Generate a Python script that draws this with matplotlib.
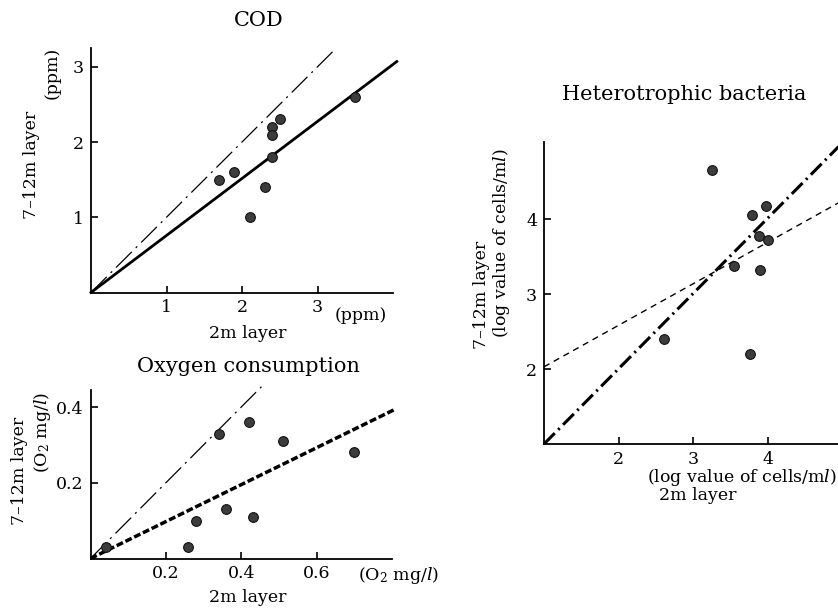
import matplotlib
matplotlib.use('Agg')
import matplotlib.pyplot as plt

# values
cod_x = [1.7, 1.9, 2.1, 2.3, 2.4, 2.4, 2.4, 2.5, 3.5]
cod_y = [1.5, 1.6, 1.0, 1.4, 2.2, 2.1, 1.8, 2.3, 2.6]
cod_one_x = [0, 3.25]
cod_one_y = [0, 3.25]
cod_fit_x = [0, 4.05]
cod_fit_y = [0, 3.07]

oxy_x = [0.04, 0.26, 0.28, 0.34, 0.36, 0.42, 0.43, 0.51, 0.70]
oxy_y = [0.03, 0.03, 0.10, 0.33, 0.13, 0.36, 0.11, 0.31, 0.28]
oxy_one_x = [0, 0.455]
oxy_one_y = [0, 0.455]
oxy_fit_x = [0, 0.81]
oxy_fit_y = [0, 0.395]

het_x = [3.25, 3.79, 3.98, 3.88, 4.00, 3.55, 3.90, 2.61, 3.76]
het_y = [4.66, 4.05, 4.17, 3.77, 3.72, 3.37, 3.32, 2.40, 2.20]
het_one_x = [1, 4.95]
het_one_y = [1, 4.97]
het_fit_x = [1, 4.95]
het_fit_y = [2.03, 4.22]

cod_ticks = [1, 2, 3]
oxy_ticks_x = [0.2, 0.4, 0.6]
oxy_ticks_y = [0.2, 0.4]
het_ticks = [2, 3, 4]

plt.rcParams['font.family'] = ['DejaVu Serif']
plt.rcParams['mathtext.fontset'] = 'dejavuserif'
plt.rcParams['lines.scale_dashes'] = False

W, H = 838, 608
fig = plt.figure(figsize=(W / 100, H / 100), dpi=100)


def px_axes(left, right, bottom, top):
    return fig.add_axes([left / W, 1 - bottom / H, (right - left) / W, (bottom - top) / H])


def ftext(x, y, s, **kw):
    fig.text(x / W, 1 - y / H, s, **kw)


def style(ax):
    for side in ['top', 'right']:
        ax.spines[side].set_visible(False)
    for side in ['left', 'bottom']:
        ax.spines[side].set_linewidth(1.3)
    ax.tick_params(direction='in', length=5, width=1.2, labelsize=12.5, pad=5)


dots = dict(marker='o', linestyle='none', markersize=7, markerfacecolor='#3c3c3c',
            markeredgecolor='#111111', markeredgewidth=0.8, zorder=5)

# COD
ax1 = px_axes(91, 393, 292.5, 48)
ax1.plot(cod_one_x, cod_one_y, color='black', lw=0.9, dashes=[16, 4, 1.5, 4], clip_on=False)
ax1.plot(cod_fit_x, cod_fit_y, color='black', lw=2.0, clip_on=False)
ax1.plot(cod_x, cod_y, **dots)
ax1.set_xlim(0, 4.0)
ax1.set_ylim(0, 3.25)
ax1.set_xticks(cod_ticks)
ax1.set_yticks(cod_ticks)
style(ax1)
ftext(259, 20, 'COD', fontsize=15, ha='center', va='center')
ftext(31, 165, '7–12m layer', fontsize=12.5, rotation=90, ha='center', va='center')
ftext(52, 73, '(ppm)', fontsize=12.5, rotation=90, ha='center', va='center')
ftext(335, 315, '(ppm)', fontsize=12.5, ha='left', va='center')
ftext(248, 333, '2m layer', fontsize=12.5, ha='center', va='center')

# Oxygen consumption
ax2 = px_axes(90.5, 392, 558.5, 390)
ax2.plot(oxy_one_x, oxy_one_y, color='black', lw=0.9, dashes=[16, 4, 1.5, 4], clip_on=False)
ax2.plot(oxy_fit_x, oxy_fit_y, color='black', lw=2.5, dashes=[5, 2], clip_on=False)
ax2.plot(oxy_x, oxy_y, **dots)
ax2.set_xlim(0, 0.80)
ax2.set_ylim(0, 0.445)
ax2.set_xticks(oxy_ticks_x)
ax2.set_yticks(oxy_ticks_y)
ax2.set_xticklabels([f'{v:.1f}' for v in oxy_ticks_x])
ax2.set_yticklabels([f'{v:.1f}' for v in oxy_ticks_y])
style(ax2)
ftext(248, 366, 'Oxygen consumption', fontsize=15, ha='center', va='center')
ftext(20, 471, '7–12m layer', fontsize=12.5, rotation=90, ha='center', va='center')
ftext(42, 432, '(O$_\\mathregular{2}$ mg/$l$)', fontsize=12.5, rotation=90, ha='center', va='center')
ftext(358, 575, '(O$_\\mathregular{2}$ mg/$l$)', fontsize=12.5, ha='left', va='center')
ftext(248, 598, '2m layer', fontsize=12.5, ha='center', va='center')

# Heterotrophic bacteria
ax3 = px_axes(544, 838, 444, 142)
ax3.plot(het_one_x, het_one_y, color='black', lw=2.2, dashes=[11, 3.5, 1.5, 3.5], clip_on=False)
ax3.plot(het_fit_x, het_fit_y, color='black', lw=1.0, dashes=[4.5, 3.5], clip_on=False)
ax3.plot(het_x, het_y, **dots)
ax3.set_xlim(1, 4.94)
ax3.set_ylim(1, 5.03)
ax3.set_xticks(het_ticks)
ax3.set_yticks(het_ticks)
style(ax3)
ftext(684, 94, 'Heterotrophic bacteria', fontsize=15, ha='center', va='center')
ftext(482, 295, '7–12m layer', fontsize=12.5, rotation=90, ha='center', va='center')
ftext(502, 243, '(log value of cells/m$l$)', fontsize=12.5, rotation=90, ha='center', va='center')
ftext(837, 477, '(log value of cells/m$l$)', fontsize=12.5, ha='right', va='center')
ftext(698, 496, '2m layer', fontsize=12.5, ha='center', va='center')

fig.savefig('out.png', dpi=100)
